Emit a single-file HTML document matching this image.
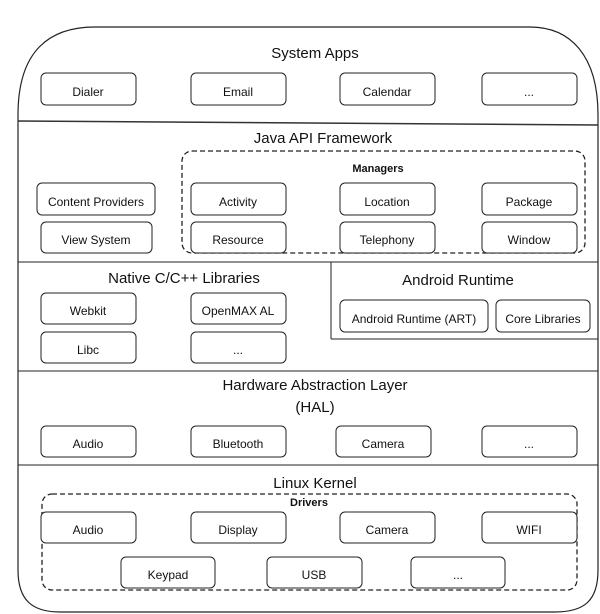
<!DOCTYPE html>
<html><head><meta charset="utf-8"><style>
html,body{margin:0;padding:0;background:#fff;}
svg{display:block;}
text{font-family:"Liberation Sans",sans-serif;fill:#111;text-anchor:middle;}
.t{font-size:15px;}
.b{font-size:12px;}
rect.n{fill:#fff;stroke:#222;stroke-width:1;}
</style></head><body>
<svg width="600" height="614" viewBox="0 0 600 614" xmlns="http://www.w3.org/2000/svg">
<path d="M18,570 L18,115 C18,50 50,27 95,27 L530,27 C570,27 598,55 598,115 L598,570 C598,600 585,612 555,612 L60,612 C32,612 18,600 18,570 Z" fill="none" stroke="#222" stroke-width="1.2"/>
<line x1="18" y1="121" x2="598" y2="125" stroke="#333" stroke-width="1.5"/>
<line x1="18" y1="262" x2="598" y2="262" stroke="#222" stroke-width="1"/>
<line x1="331" y1="262" x2="331" y2="339" stroke="#222" stroke-width="1"/>
<line x1="331" y1="339" x2="598" y2="339" stroke="#222" stroke-width="1"/>
<line x1="18" y1="371" x2="598" y2="371" stroke="#222" stroke-width="1"/>
<line x1="18" y1="465" x2="598" y2="465" stroke="#222" stroke-width="1"/>

<text class="t" x="315" y="58">System Apps</text>
<rect class="n" x="41" y="73" width="95" height="32" rx="5"/><text class="b" x="88" y="96">Dialer</text>
<rect class="n" x="191" y="73" width="95" height="32" rx="5"/><text class="b" x="238" y="96">Email</text>
<rect class="n" x="340" y="73" width="95" height="32" rx="5"/><text class="b" x="387" y="96">Calendar</text>
<rect class="n" x="482" y="73" width="95" height="32" rx="5"/><text class="b" x="529" y="96">...</text>

<text class="t" x="323" y="143">Java API Framework</text>
<rect x="182" y="151" width="403" height="102" rx="10" fill="none" stroke="#222" stroke-width="1.3" stroke-dasharray="5,3"/>
<text x="378" y="172" style="font-size:11px;font-weight:bold">Managers</text>
<rect class="n" x="37" y="183" width="118" height="32" rx="5"/><text class="b" x="96" y="206">Content Providers</text>
<rect class="n" x="191" y="183" width="95" height="32" rx="5"/><text class="b" x="238" y="206">Activity</text>
<rect class="n" x="340" y="183" width="95" height="32" rx="5"/><text class="b" x="387" y="206">Location</text>
<rect class="n" x="482" y="183" width="95" height="32" rx="5"/><text class="b" x="529" y="206">Package</text>
<rect class="n" x="41" y="222" width="111" height="31" rx="5"/><text class="b" x="96" y="244">View System</text>
<rect class="n" x="191" y="222" width="95" height="31" rx="5"/><text class="b" x="238" y="244">Resource</text>
<rect class="n" x="340" y="222" width="95" height="31" rx="5"/><text class="b" x="387" y="244">Telephony</text>
<rect class="n" x="482" y="222" width="95" height="31" rx="5"/><text class="b" x="529" y="244">Window</text>

<text class="t" x="184" y="283">Native C/C++ Libraries</text>
<rect class="n" x="41" y="293" width="95" height="31" rx="5"/><text class="b" x="88" y="315">Webkit</text>
<rect class="n" x="191" y="293" width="95" height="31" rx="5"/><text class="b" x="238" y="315">OpenMAX AL</text>
<rect class="n" x="41" y="332" width="95" height="31" rx="5"/><text class="b" x="88" y="354">Libc</text>
<rect class="n" x="191" y="332" width="95" height="31" rx="5"/><text class="b" x="238" y="354">...</text>

<text class="t" x="458" y="285">Android Runtime</text>
<rect class="n" x="340" y="300" width="148" height="32" rx="5"/><text class="b" x="414" y="323">Android Runtime (ART)</text>
<rect class="n" x="496" y="300" width="94" height="32" rx="5"/><text class="b" x="543" y="323">Core Libraries</text>

<text class="t" x="315" y="390">Hardware Abstraction Layer</text>
<text class="t" x="315" y="412">(HAL)</text>
<rect class="n" x="41" y="426" width="95" height="31" rx="5"/><text class="b" x="88" y="448">Audio</text>
<rect class="n" x="191" y="426" width="95" height="31" rx="5"/><text class="b" x="238" y="448">Bluetooth</text>
<rect class="n" x="336" y="426" width="95" height="31" rx="5"/><text class="b" x="383" y="448">Camera</text>
<rect class="n" x="482" y="426" width="95" height="31" rx="5"/><text class="b" x="529" y="448">...</text>

<text class="t" x="315" y="488">Linux Kernel</text>
<rect x="42" y="494" width="535" height="96" rx="10" fill="none" stroke="#222" stroke-width="1.3" stroke-dasharray="5,3"/>
<text x="309" y="506" style="font-size:11px;font-weight:bold">Drivers</text>
<rect class="n" x="41" y="512" width="95" height="31" rx="5"/><text class="b" x="88" y="534">Audio</text>
<rect class="n" x="191" y="512" width="95" height="31" rx="5"/><text class="b" x="238" y="534">Display</text>
<rect class="n" x="340" y="512" width="95" height="31" rx="5"/><text class="b" x="387" y="534">Camera</text>
<rect class="n" x="482" y="512" width="95" height="31" rx="5"/><text class="b" x="529" y="534">WIFI</text>
<rect class="n" x="121" y="557" width="94" height="31" rx="5"/><text class="b" x="168" y="579">Keypad</text>
<rect class="n" x="267" y="557" width="95" height="31" rx="5"/><text class="b" x="314" y="579">USB</text>
<rect class="n" x="411" y="557" width="94" height="31" rx="5"/><text class="b" x="458" y="579">...</text>
</svg>
</body></html>
